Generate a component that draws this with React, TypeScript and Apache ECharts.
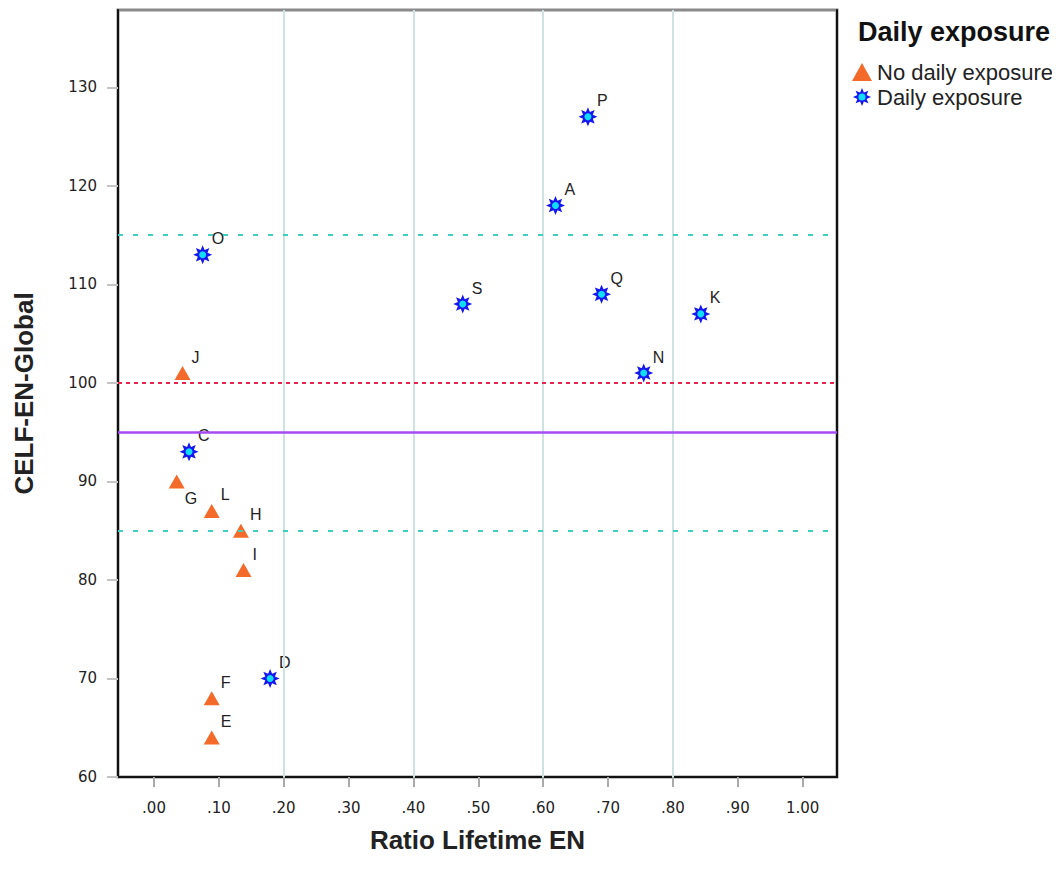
import React, { useEffect, useRef } from "react";
import * as echarts from "echarts";

// ---- data ----
const noDailyNames = ["J", "G", "L", "H", "I", "F", "E"];
const noDailyX = [0.044, 0.035, 0.089, 0.134, 0.138, 0.089, 0.089];
const noDailyY = [101, 90, 87, 85, 81, 68, 64];

const dailyNames = ["P", "A", "O", "S", "Q", "K", "N", "C", "D"];
const dailyX = [0.669, 0.619, 0.075, 0.476, 0.69, 0.843, 0.755, 0.054, 0.179];
const dailyY = [127, 118, 113, 108, 109, 107, 101, 93, 70];

const xTicks = [0, 0.1, 0.2, 0.3, 0.4, 0.5, 0.6, 0.7, 0.8, 0.9, 1.0];
const yTicks = [60, 70, 80, 90, 100, 110, 120, 130];
const xGridLines = [0.2, 0.4, 0.6, 0.8];
const refDashed = [115, 85];
const refRed = 100;
const refPurple = 95;

const belowLabels = ["G"];

const STAR_D =
  "M50 0 L60.5 24.6 L85.4 14.6 L75.4 39.5 L100 50 L75.4 60.5 L85.4 85.4 L60.5 75.4 L50 100 L39.5 75.4 L14.6 85.4 L24.6 60.5 L0 50 L24.6 39.5 L14.6 14.6 L39.5 24.6 Z";
const STAR = "path://" + STAR_D;
const STAR_ICON =
  "image://data:image/svg+xml;utf8," +
  encodeURIComponent(
    `<svg xmlns="http://www.w3.org/2000/svg" width="100" height="100" viewBox="0 0 100 100"><path d="${STAR_D}" fill="#1616ee"/><circle cx="50" cy="50" r="20" fill="#10dcff"/></svg>`
  );

const FONT = "Liberation Sans, Arial, sans-serif";

function mkData(names: string[], xs: number[], ys: number[], withLabel: boolean) {
  return names.map((n, i) => {
    const item: any = { name: n, value: [xs[i], ys[i]] };
    if (withLabel && belowLabels.includes(n)) {
      item.label = { offset: [8, 17] };
    }
    return item;
  });
}

const fmtX = (v: number) => {
  const s = v.toFixed(2);
  return s.startsWith("0") ? s.slice(1) : s;
};

export default function App() {
  const ref = useRef<HTMLDivElement>(null);
  useEffect(() => {
    if (!ref.current) return;
    const chart = echarts.init(ref.current, undefined, { renderer: "svg" });
    const pointLabel = {
      show: true,
      position: "inside",
      align: "left",
      verticalAlign: "middle",
      formatter: "{b}",
      offset: [9, -16],
      color: "#222",
      fontSize: 16,
      fontFamily: FONT,
    };
    chart.setOption({
      animation: false,
      backgroundColor: "#fff",
      title: {
        text: "Daily exposure",
        left: 858,
        top: 18,
        padding: 0,
        textStyle: { fontFamily: FONT, fontWeight: "bold", fontSize: 27, color: "#111" },
      },
      legend: {
        orient: "vertical",
        left: 852,
        top: 61,
        padding: 0,
        itemGap: 3,
        itemWidth: 20,
        itemHeight: 18,
        data: [
          { name: "No daily exposure" },
          { name: "Daily exposure", icon: STAR_ICON },
        ],
        textStyle: { fontFamily: FONT, fontSize: 22, color: "#222" },
      },
      grid: {
        left: 118,
        top: 10,
        width: 719,
        height: 767,
        show: true,
        borderColor: "#8a8a8a",
        borderWidth: 3,
        containLabel: false,
      },
      xAxis: {
        type: "value",
        min: -0.0555,
        max: 1.053,
        name: "Ratio Lifetime EN",
        nameLocation: "middle",
        nameGap: 50,
        nameTextStyle: { fontFamily: FONT, fontWeight: "bold", fontSize: 26, color: "#222" },
        axisLine: { show: true, onZero: false, lineStyle: { color: "#111", width: 2 } },
        axisTick: { show: true, customValues: xTicks, length: 10, lineStyle: { color: "#aaa", width: 2 } },
        axisLabel: {
          customValues: xTicks,
          formatter: (v: number) => fmtX(v),
          margin: 23,
          fontSize: 15,
          fontFamily: "DejaVu Sans, sans-serif",
          color: "#222",
        },
        splitLine: { show: false },
      },
      yAxis: [
        {
          type: "value",
          min: 60,
          max: 137.84,
          name: "CELF-EN-Global",
          nameLocation: "middle",
          nameGap: 81,
          nameRotate: 90,
          nameTextStyle: { fontFamily: FONT, fontWeight: "bold", fontSize: 26, color: "#222" },
          axisLine: { show: true, onZero: false, lineStyle: { color: "#111", width: 2 } },
          axisTick: { show: true, customValues: yTicks, length: 11, lineStyle: { color: "#c4c4c4", width: 2 } },
          axisLabel: {
            customValues: yTicks,
            margin: 21,
            fontSize: 15,
            fontFamily: "DejaVu Sans, sans-serif",
            color: "#222",
          },
          splitLine: { show: false },
        },
        {
          type: "value",
          position: "right",
          min: 60,
          max: 137.84,
          axisLine: { show: true, onZero: false, lineStyle: { color: "#111", width: 2 } },
          axisTick: { show: false },
          axisLabel: { show: false },
          splitLine: { show: false },
        },
      ],
      series: [
        {
          name: "grid",
          type: "scatter",
          data: [],
          silent: true,
          markLine: {
            silent: true,
            symbol: "none",
            label: { show: false },
            data: [
              ...xGridLines.map((v) => ({ xAxis: v, lineStyle: { color: "#cfe2e2", width: 2, type: "solid", opacity: 1 } })),
              ...refDashed.map((v) => ({ yAxis: v, lineStyle: { color: "#3fcfbf", width: 2, type: [5, 10], opacity: 1 } })),
              { yAxis: refRed, lineStyle: { color: "#e5234b", width: 2, type: [4, 4], opacity: 1 } },
              { yAxis: refPurple, lineStyle: { color: "#a64bf4", width: 2.5, type: "solid", opacity: 1 } },
            ],
          },
        },
        {
          name: "No daily exposure",
          type: "scatter",
          symbol: "triangle",
          symbolSize: [16, 14],
          itemStyle: { color: "#f46a2a", opacity: 1 },
          label: pointLabel,
          data: mkData(noDailyNames, noDailyX, noDailyY, true),
          z: 3,
        },
        {
          name: "Daily exposure",
          type: "scatter",
          symbol: STAR,
          symbolSize: 19,
          itemStyle: { color: "#1616ee", opacity: 1 },
          label: pointLabel,
          data: mkData(dailyNames, dailyX, dailyY, true),
          z: 3,
        },
        {
          name: "daily-center",
          type: "scatter",
          symbol: "circle",
          symbolSize: 7,
          itemStyle: { color: "#10dcff", opacity: 1 },
          silent: true,
          data: mkData(dailyNames, dailyX, dailyY, false),
          z: 4,
        },
      ],
    });
    return () => chart.dispose();
  }, []);
  return <div ref={ref} style={{ width: 1060, height: 869, margin: -8 }} />;
}
